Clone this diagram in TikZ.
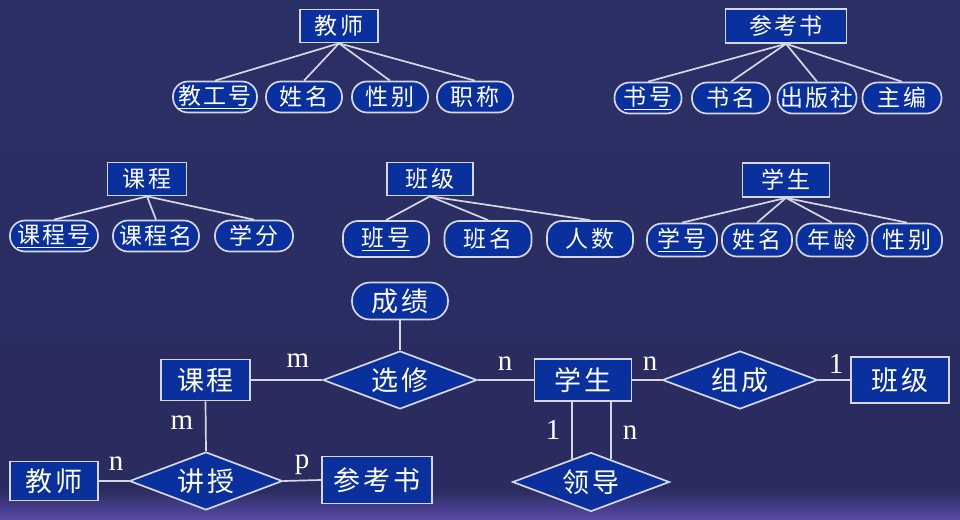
\documentclass[tikz,border=0pt]{standalone}
\usepackage{fontspec}
\setmainfont{Liberation Serif}
\newfontfamily\cjk[LetterSpace=10]{Noto Sans CJK SC}
\usetikzlibrary{shapes.geometric}
\definecolor{bgtop}{RGB}{43,48,102}
\definecolor{bgmid}{RGB}{42,43,94}
\definecolor{bgband}{RGB}{88,74,168}
\definecolor{nodeblue}{RGB}{10,48,158}
\definecolor{linegray}{RGB}{215,215,228}

\begin{document}
\begin{tikzpicture}[x=1pt,y=-1pt,
    ent/.style={draw=linegray,fill=nodeblue,line width=1.7pt,text=white,
      font=\cjk\fontsize{23}{26}\selectfont,inner sep=0pt,minimum height=33pt},
    attr/.style={ent,rounded corners=15pt,minimum height=31pt},
    bigtext/.style={font=\cjk\fontsize{27}{30}\selectfont},
    rel/.style={diamond,aspect=2.6,draw=linegray,fill=nodeblue,line width=1.7pt,
      text=white,bigtext,inner sep=0pt},
    card/.style={text=white,font=\fontsize{29}{32}\selectfont,inner sep=0pt},
    link/.style={draw=linegray,line width=1.7pt}]
    \useasboundingbox (0,0) rectangle (960,519);
    \shade[top color=bgtop,bottom color=bgmid] (0,0) rectangle (960,490);
    \shade[top color=bgmid,bottom color=bgband] (0,490) rectangle (960,519);

    % teacher
    \node[ent,minimum width=78pt] (T) at (339,26) {教师};
    \node[attr,minimum width=84pt] (tA1) at (215,97) {\underline{教工号}};
    \node[attr,minimum width=76pt] (tA2) at (304,97) {姓名};
    \node[attr,minimum width=76pt] (tA3) at (390,97) {性别};
    \node[attr,minimum width=76pt] (tA4) at (475,97) {职称};
    \foreach \a in {tA1,tA2,tA3,tA4} \draw[link] (T.south) -- (\a.north);

    % reference book
    \node[ent,minimum width=121pt,minimum height=34pt] (R) at (786,26) {参考书};
    \node[attr,minimum width=67pt] (rA1) at (648,98) {\underline{书号}};
    \node[attr,minimum width=78pt] (rA2) at (731,98) {书名};
    \node[attr,minimum width=79pt] (rA3) at (817,98) {出版社};
    \node[attr,minimum width=79pt] (rA4) at (902,98) {主编};
    \foreach \a in {rA1,rA2,rA3,rA4} \draw[link] (R.south) -- (\a.north);

    % course
    \node[ent,minimum width=79pt] (C) at (147,179) {课程};
    \node[attr,minimum width=88pt] (cA1) at (54,236) {\underline{课程号}};
    \node[attr,minimum width=86pt] (cA2) at (156,236) {课程名};
    \node[attr,minimum width=78pt] (cA3) at (254,236) {学分};
    \foreach \a in {cA1,cA2,cA3} \draw[link] (C.south) -- (\a.north);

    % class
    \node[ent,minimum width=86pt] (B) at (430,179) {班级};
    \node[attr,minimum width=86pt,minimum height=36pt] (bA1) at (386,239) {\underline{班号}};
    \node[attr,minimum width=87pt,minimum height=36pt] (bA2) at (488,239) {班名};
    \node[attr,minimum width=86pt,minimum height=36pt] (bA3) at (590,239) {人数};
    \foreach \a in {bA1,bA2,bA3} \draw[link] (B.south) -- (\a.north);

    % student
    \node[ent,minimum width=87pt,minimum height=34pt] (S) at (786,180) {学生};
    \node[attr,minimum width=70pt,minimum height=33pt] (sA1) at (682,240) {\underline{学号}};
    \node[attr,minimum width=70pt,minimum height=33pt] (sA2) at (757,240) {姓名};
    \node[attr,minimum width=71pt,minimum height=33pt] (sA3) at (832,240) {年龄};
    \node[attr,minimum width=70pt,minimum height=33pt] (sA4) at (907,240) {性别};
    \foreach \a in {sA1,sA2,sA3,sA4} \draw[link] (S.south) -- (\a.north);

    % E-R diagram
    \node[attr,bigtext,minimum width=96pt,minimum height=37pt,rounded corners=18pt] (cj) at (400,301) {成绩};
    \node[rel,minimum width=154pt,minimum height=58pt] (xx) at (400,380) {选修};
    \node[ent,bigtext,minimum width=89pt,minimum height=41pt] (kc) at (205.5,380) {课程};
    \node[rel,minimum width=153pt,minimum height=58pt] (jx) at (206,481) {讲授};
    \node[ent,bigtext,minimum width=88pt,minimum height=39pt] (js) at (54,481) {教师};
    \node[ent,bigtext,minimum width=110pt,minimum height=47pt] (ck) at (377,480) {参考书};
    \node[ent,bigtext,minimum width=97pt,minimum height=42pt] (xs) at (583,380) {学生};
    \node[rel,minimum width=155pt,minimum height=58pt] (zc) at (740,380) {组成};
    \node[ent,bigtext,minimum width=98pt,minimum height=46pt] (bj) at (900,380) {班级};
    \node[rel,minimum width=157pt,minimum height=59pt] (ld) at (591,482) {领导};

    \draw[link] (kc.east) -- (xx.west);
    \draw[link] (xx.north) -- (cj.south);
    \draw[link] (xx.east) -- (xs.west);
    \draw[link] (xs.east) -- (zc.west);
    \draw[link] (zc.east) -- (bj.west);
    \draw[link] (kc.south) -- (jx.north);
    \draw[link] (js.east) -- (jx.west);
    \draw[link] (jx.east) -- (ck.west);
    \draw[link] (ld.130) -- (ld.130 |- xs.south);
    \draw[link] (ld.48) -- (ld.48 |- xs.south);

    \node[card] (m1) at (298,361) {m};
    \node[card] (m2) at (182,423) {m};
    \node[card] (n1) at (116,464) {n};
    \node[card] (p1) at (302,465) {p};
    \node[card] (n2) at (505,364) {n};
    \node[card] (n3) at (650,364) {n};
    \node[card] (o1) at (836,364) {1};
    \node[card] (o2) at (553,430) {1};
    \node[card] (n4) at (630,433) {n};

\end{tikzpicture}
\end{document}
